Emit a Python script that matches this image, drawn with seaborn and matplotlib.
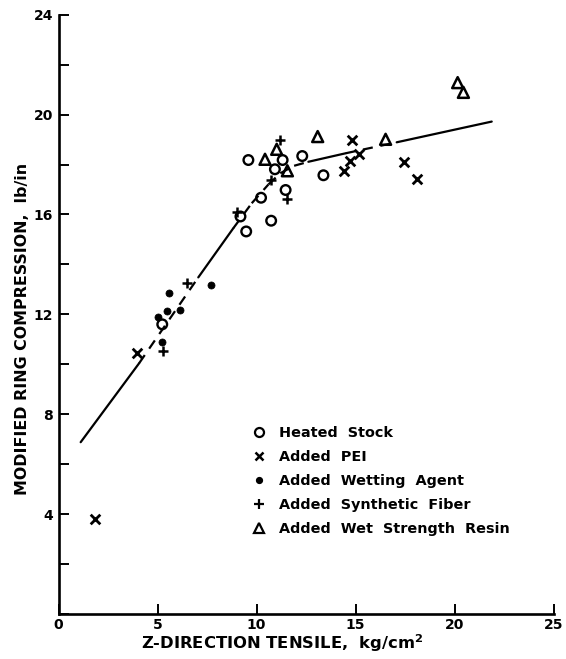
import matplotlib
matplotlib.use("Agg")
import matplotlib.pyplot as plt
import seaborn as sns
import pandas as pd
from matplotlib.lines import Line2D

# --- measurements -------------------------------------------------------
heated_x = [9.59, 11.32, 10.93, 12.31, 13.38, 10.23, 9.19, 9.48, 10.74, 11.47, 5.24]
heated_y = [18.18, 18.18, 17.81, 18.34, 17.57, 16.67, 15.92, 15.32, 15.75, 16.98, 11.60]

pei_x = [14.81, 14.44, 14.72, 15.19, 17.47, 18.12, 3.95, 1.84]
pei_y = [18.98, 17.75, 18.14, 18.42, 18.09, 17.42, 10.47, 3.80]

wetting_x = [5.00, 5.46, 5.58, 6.15, 7.71, 5.24]
wetting_y = [11.89, 12.14, 12.85, 12.18, 13.17, 10.90]

fiber_x = [6.48, 9.00, 10.72, 11.19, 11.52, 5.29]
fiber_y = [13.25, 16.11, 17.38, 18.98, 16.62, 10.53]

resin_x = [10.43, 11.02, 11.56, 13.09, 16.52, 20.16, 20.45]
resin_y = [18.21, 18.61, 17.75, 19.12, 19.01, 21.28, 20.89]

# fitted trend curve
trend_x = [1.12, 4.07, 7.06, 8.83, 9.76, 10.60, 11.20, 11.90, 12.62, 14.50, 17.08, 21.88]
trend_y = [6.88, 10.04, 13.48, 15.45, 16.45, 17.20, 17.65, 17.95, 18.11, 18.45, 18.89, 19.72]

series_labels = ["Heated  Stock", "Added  PEI", "Added  Wetting  Agent",
                 "Added  Synthetic  Fiber", "Added  Wet  Strength  Resin"]

x_ticks = [0, 5, 10, 15, 20, 25]
y_ticks = [0, 2, 4, 6, 8, 10, 12, 14, 16, 18, 20, 22, 24]
y_labelled = [4, 8, 12, 16, 20, 24]

# --- style --------------------------------------------------------------
sns.set_style("ticks")
ink = "black"
plt.rcParams["font.family"] = ["DejaVu Sans"]
plt.rcParams["font.weight"] = "bold"
plt.rcParams["text.color"] = ink
plt.rcParams["axes.labelcolor"] = ink
plt.rcParams["xtick.color"] = ink
plt.rcParams["ytick.color"] = ink

W, H = 566, 659
fig = plt.figure(figsize=(W / 100, H / 100), dpi=100)
ax = fig.add_axes([58.5 / W, (H - 614) / H, 495 / W, (614 - 14.7) / H])

# trend curve: solid stretches broken by dashes where it runs through the points
solid_segments = [True, False, True, False, False, False, False, False, True, False, True]
for i, solid in enumerate(solid_segments):
    seg = pd.DataFrame({"x": trend_x[i:i + 2], "y": trend_y[i:i + 2]})
    sns.lineplot(data=seg, x="x", y="y", ax=ax, color=ink, lw=1.6,
                 linestyle="-" if solid else (0, (4.5, 3.5)),
                 sort=False, estimator=None)

# data series
sns.scatterplot(x=heated_x, y=heated_y, ax=ax, marker="o", s=48,
                facecolors="none", edgecolors=ink, linewidth=1.7, zorder=3)
sns.scatterplot(x=pei_x, y=pei_y, ax=ax, marker="x", s=48,
                color=ink, linewidth=2.0, zorder=3)
sns.scatterplot(x=wetting_x, y=wetting_y, ax=ax, marker="o", s=26,
                color=ink, edgecolor=ink, linewidth=0.5, zorder=3)
sns.scatterplot(x=fiber_x, y=fiber_y, ax=ax, marker="+", s=55,
                color=ink, linewidth=1.8, zorder=3)
sns.scatterplot(x=resin_x, y=resin_y, ax=ax, marker="^", s=62,
                facecolors="none", edgecolors=ink, linewidth=1.8, zorder=3)

# axes
ax.set_xlim(0, 25)
ax.set_ylim(0, 24)
sns.despine(ax=ax)
for side in ("left", "bottom"):
    ax.spines[side].set_linewidth(1.9)
    ax.spines[side].set_color(ink)

ax.set_xticks(x_ticks)
ax.set_xticklabels([str(t) for t in x_ticks])
ax.set_yticks(y_ticks)
ax.set_yticklabels([str(t) if t in y_labelled else "" for t in y_ticks])
ax.tick_params(axis="both", direction="in", length=7, width=1.4, color=ink,
               labelsize=10, labelcolor=ink)
ax.tick_params(axis="x", pad=3)
ax.tick_params(axis="y", pad=4)

ax.set_xlabel("Z-DIRECTION TENSILE,  kg/cm$^{\\mathbf{2}}$", fontsize=11.8,
              fontweight="bold", color=ink)
ax.xaxis.set_label_coords(0.4525, -0.031)
ax.set_ylabel("MODIFIED RING COMPRESSION,  lb/in", fontsize=11.4,
              fontweight="bold", color=ink)
ax.yaxis.set_label_coords(-0.057, 0.476)

# legend
handles = [
    Line2D([], [], ls="none", marker="o", ms=6.5, mfc="none", mec=ink, mew=1.6),
    Line2D([], [], ls="none", marker="x", ms=5.5, mec=ink, mew=1.8),
    Line2D([], [], ls="none", marker="o", ms=4.2, mfc=ink, mec=ink),
    Line2D([], [], ls="none", marker="+", ms=6.5, mec=ink, mew=1.6),
    Line2D([], [], ls="none", marker="^", ms=7, mfc="none", mec=ink, mew=1.6),
]
leg = ax.legend(handles, series_labels, loc="upper left", frameon=False,
                bbox_to_anchor=(0.375, 0.326), fontsize=10.4, handlelength=1.0,
                handletextpad=0.9, labelspacing=0.7, borderpad=0)
for t in leg.get_texts():
    t.set_fontweight("bold")
    t.set_color(ink)

fig.savefig("out.png", dpi=100, facecolor="white")
